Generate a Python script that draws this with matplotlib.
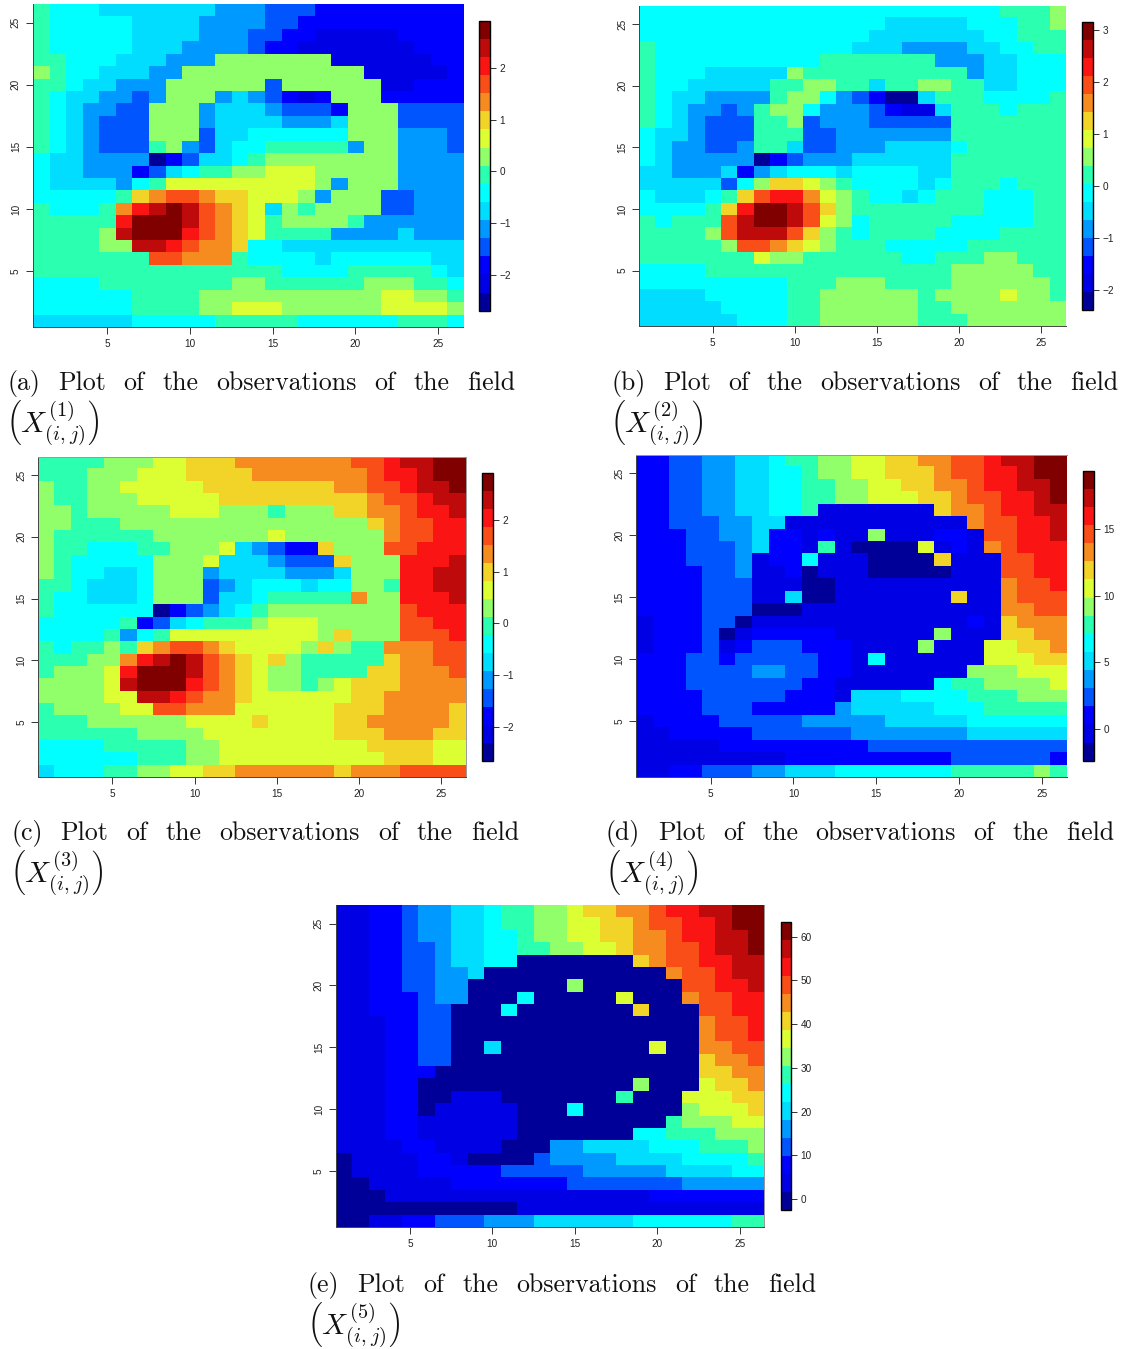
import numpy as np
import matplotlib
matplotlib.use("Agg")
import matplotlib.pyplot as plt
from matplotlib.colors import ListedColormap

W, H = 1123, 1349

# 16 colours of the colour bar, bottom to top
colours = ["#000099", "#0000E5", "#0000FF", "#0055FF", "#0099FF", "#00DDFF", "#00FFFF", "#2BFFB0",
           "#90FF6A", "#DBFF33", "#F2D327", "#F68C20", "#F94E18", "#FA1414", "#BE0A0A", "#800000"]

# band index of each cell (hex digit), rows from y=26 down to y=1, columns x=1..26
field1 = [
    "7 666 5555555 444 333 222222222",
    "7 66666 5555 4444 33 2222222222",
    "7 66666 5555 444 33 22 11111 2222",
    "7 66666 555 4444 3 22 1111111 222",
    "77 666 555 444 8888888 111111 22",
    "8 7 66 555 44 88888888888 11111 2",
    "77 6 55 444 888888 3 888888 11 222",
    "7 6 55 44 3 4 888 4 5 4 3 2 1 2 888 22222",
    "7 6 5 44 33 888 4 555 4 333 2 888 3333",
    "7 6 5 4 333 888 4 5555 444 5 888 3333",
    "7 6 5 4 333 888 3 55 666666 888 444 3",
    "7 6 5 4 333 7 8 4 3 5 66 77777 4 88 444 3",
    "6 55 4444 0 2 3 55 6 7 88888888 4444",
    "6 55 444 2 3 5 6 77 88 999 88888 4444",
    "6 5555 4 6 7 999999999 8 4 888 4444",
    "66666 7 A B CC B AA 999 8 4 888 33 444",
    "7 666 7 B D E F E C B A 9 5 8 7 8888 33 444",
    "77777 D FFF E C B A 9 7 8888 7 444444",
    "7777 8 E FFF D C B A 9 7777 4444 5 444",
    "7777 88 EE D C BB A 66 55555555555",
    "7777777 CC BBB 7 6666 5 666666 55",
    "777777777777777 6666 77777 6 5",
    "6666 77777777 88 777777 888 77 6",
    "666666 7777 88888888888 99 88 7",
    "666666 7777 88 999 888888 9999 8",
    "555555 66666 77777 666666 777 6",
]
field2 = [
    "6666666666666666666666 777 8",
    "666666666666666 55555 666 77 8",
    "66666666666666 5555555 66 777",
    "7 666666666666 555 4444 55 66 77",
    "7 6666666666 7777777 444 55 666",
    "7 666 55555 8 7777777777 4 55 666",
    "7 66 55555 77 88 77 5 77 88 77 55 666",
    "7 6 55 4444 7 88 6 4 3 2 00 5 777 6666 7",
    "7 6 5 44 3 4 7 88 6 444 3 2 11 5 777 6 777",
    "7 6 5 4 333 77 8 3 444 33333 7777777",
    "6 55 4 333 777 33 4444444 7777777",
    "6 5 44 33 4 77 5 33 444 5555 6 777777",
    "6 5 44444 0 2 3 444 555555 7777777",
    "55 444 5 2 4 5 666 5 6666 55 7777777",
    "55555 3 6 8 AA 9 8 7 6666 5 6 777 6 777",
    "6 555 6 7 A C DD B 9 8 7 66 5 6 777 666 77",
    "6666 7 A D FF E C A 8 77777777 666 77",
    "7 6 777 C E FF E C 9 8 6 77777 66666 77",
    "7777 8 C EEE C A 8 7 6 7777 6666 7777",
    "77777 8 CC B A 9 8 777 66666 777777",
    "7777777 9 88 777777 66 777 88 777",
    "6666 777777777777777 88888 77",
    "666666666 777 888 7777 888888 7",
    "5555 66666 77 888888 7 8888 9 88 7",
    "55555 6666 77 888888 77 8888888",
    "555555 666 77 888888 777 888888",
]
field3 = [
    "7777 888 99 AAA BBBBBBB CC D EE FF",
    "777 888 999 AAAA BBBBBBB C DD E FF",
    "8 77 88 99999 AAAAAAAA BB CC D EE F",
    "8 77 888 99999 AAAAAAAAA B CC D EE",
    "88 7 88888 999 888 7 888 AA BB C DD E",
    "88 777 888888888888888 A B CC DD",
    "8 777777 8888888 9 888888 B CC DD",
    "8 77 666 77 888 9 5 4 3 2 2 A 888 CC DDD",
    "8 7 66666 888 9 555 4 333 A 888 DDD E",
    "8 7 66 55 6 888 4 5555 444 5 888 DD EE",
    "77 6 555 6 888 3 4 5 666 5 66 88 7 DD EE",
    "7 66 555 6 888 3 55 6 77777 B 88 DDD E",
    "7 666666 0 2 3 4 5 6 7 88888888 C DDD",
    "66666 7 2 3 5 6 777 8 999 88888 CC DD",
    "6666 7 4 6 7 999999999 8 A 888 CCC D",
    "7 6 77 8 7 A B CC B A 9999 8 A 8 77 BBB CC",
    "777 88 B D E F E C B A 9 A 8 77777 A BB CC",
    "7 888 9 D FFF E C B A 9 88 7777 AA BBB C",
    "8888 9 E FFF D C B A 9 88 7 8 9 AAA BBBB",
    "8888 99 EE D C BB A 999999 AA BBBBB",
    "7 8888 99 CC BBB 999999 AAA BBBB A",
    "777 888888 9999 A 9999 AA BBBBB A",
    "777777 8888 99999999 AAA BBB AA",
    "6666 77777 88 999999999 AAAA 99",
    "666666 777 88 9999999999 AAA 99",
    "5 666 77 88 99 AA BBBBBB A BBB CCCC",
]
field4 = [
    "22 33 44 55 6 77 88 99 AA BB CC D EE FF",
    "22 33 44 55 66 7 88 99 AAA B CC DD E FF",
    "22 33 44 55 66 77 88 99 AA BB C DD EE F",
    "22 33 44 55 66 77 88 999 AA B CC DD E F",
    "22 33 44 55 66 7 1111111 A BB C DD EE",
    "22 333 44 55 11111111111 B CC DD E",
    "222 33 44 5 22 1 2 11 8 111 22 1 CC DD E",
    "222 333 4 5 22 1 7 1 0000 9 1 2 1 B C DDD",
    "222 333 4 1 22 6 111 0000 A 111 CC DD",
    "2222 33 4 11 2 0 111 00000 111 CC DD",
    "2222 333 111 00 1111111111 B CC D",
    "2222 333 11 5 00 1111111 A 11 B CCC",
    "2222 333 000 111111111111 BB CC",
    "1 222 33 0 1111111111111 2 1 A BBB",
    "1 222 3 0 1 22222 111111 8 111 AA BB",
    "1 222 3 1 2 333 222 1111 8 111 99 AA B",
    "222 33 2 33333 22 1 6 111111 999 AA",
    "222 3333 44 33 22 1111111 888 999",
    "222 3333333 22 111111 6 77 8888 9",
    "2222 33333 222 1 555 6666 777 888",
    "2222 333 22222 4 55555 666 77777",
    "1 2222 33333 44444 55555 666666",
    "11 22222 333333 4444444 555555",
    "11111 222222222 333333333333",
    "111111111 2222222222 333333 2",
    "11 22 333 44 555 6666666 77777 8 7",
]
field5 = [
    "11 22 3 44 55 6 77 88 9 AA BB C DD EE FF",
    "11 22 3 44 55 6 77 88 99 AA B CC DD E FF",
    "11 22 3 44 55 66 7 88 99 AA BB C DD EE F",
    "11 22 33 4 55 66 77 88 99 A BB CC D EE F",
    "11 22 33 4 55 66 0000000 A B CC DD EE",
    "11 22 33 44 5 00000000000 B CC D EE",
    "11 22 33 44 000000 8 000000 CC DD E",
    "11 222 3 44 000 6 00000 9 000 B CC DD",
    "11 222 33 000 6 0000000 A 000 CC DD",
    "111 22 33 000000000000000 B CC D",
    "111 22 33 000000000000000 B CC D",
    "111 22 33 00 5 000000000 9 00 BB CC",
    "111 22 33 000000000000000 A BB C",
    "111 22 2 0000000000000000 AA BB",
    "111 22 0000000000000 8 000 9 AA B",
    "111 22 00 111 0000000 7 000 999 AA",
    "111 22 0 11111 000 6 000000 8 999 A",
    "111 22 111111 000000000 7 888 99",
    "111 22 111111 0000000 66 777 888",
    "1111 22 1111 000 44 5555 666 777 8",
    "0 1111 22 1 0000 3 4444 5555 6666 7",
    "0 1111 22222 33333 44444 5555 66",
    "00 11111 2222222 3333333 44444",
    "000 1111111111111111 2222222",
    "00000000000 111111111111111",
    "00 11 22 333 444 555555 666666 77",
]

# colour bar range of each field
ranges = [(-2.688, 2.907), (-2.391, 3.154), (-2.665, 2.916), (-2.375, 19.375), (-2.5, 63.4)]
bar_ticks = [[-2, -1, 0, 1, 2], [-2, -1, 0, 1, 2, 3], [-2, -1, 0, 1, 2], [0, 5, 10, 15], [0, 10, 20, 30, 40, 50, 60]]
letters = ["a", "b", "c", "d", "e"]
fields = [field1, field2, field3, field4, field5]

# pixel boxes: image, colour bar, caption left and right edge, caption baseline
img_box = [(32.7, 4, 463, 327), (639, 5.7, 1065.7, 326), (38.3, 456.7, 466, 777.3),
           (636, 454.7, 1067, 777.3), (335.7, 905, 764.3, 1226.7)]
bar_box = [(479.3, 20.7, 490, 310.7), (1082.3, 21.7, 1092.7, 310), (482.3, 472.7, 492.7, 761),
           (1083.3, 470.7, 1093.7, 760.7), (780.7, 921.7, 791, 1210)]
cap_pos = [(7, 515, 390), (611, 1118, 390), (11, 519, 840), (606, 1114, 840), (308, 816, 1292)]
# faint grey edges that show on some of the images
grey_sides = [[], [], ["top", "right"], ["top"], ["right"]]

plt.rcParams["mathtext.fontset"] = "cm"
plt.rcParams["font.family"] = "Liberation Sans"
plt.rcParams["axes.unicode_minus"] = True
cmap = ListedColormap(colours)
fig = plt.figure(figsize=(W / 100, H / 100), dpi=100)


def add_ax(box):
    x0, y0, x1, y1 = box
    return fig.add_axes([x0 / W, 1 - y1 / H, (x1 - x0) / W, (y1 - y0) / H])


def caption(letter, n, x0, x1, y):
    words = ["(%s)" % letter, "Plot", "of", "the", "observations", "of", "the", "field"]
    items = [fig.text(0, 1 - y / H, w, family="cmr10", fontsize=18.6, color="#111111") for w in words]
    r = fig.canvas.get_renderer()
    widths = [t.get_window_extent(r).width for t in items]
    gap = (x1 - x0 - sum(widths)) / (len(words) - 1)
    x = x0
    for t, w in zip(items, widths):
        t.set_x(x / W)
        x += w + gap
    fig.text((x0 - 1) / W, 1 - (y + 33) / H, r"$\left(X^{(%d)}_{(i,j)}\right)$" % n,
             fontsize=21, va="center", color="#111111")


for i in range(5):
    rows = [r.replace(" ", "") for r in fields[i]]
    levels = np.array([[int(c, 16) for c in r] for r in rows])
    vmin, vmax = ranges[i]
    values = vmin + (levels + 0.5) * (vmax - vmin) / 16

    ax = add_ax(img_box[i])
    im = ax.imshow(values[::-1], origin="lower", extent=(0.5, 26.5, 0.5, 26.5), aspect="auto",
                   cmap=cmap, vmin=vmin, vmax=vmax, interpolation="nearest")
    ax.set_xticks([5, 10, 15, 20, 25])
    ax.set_yticks([5, 10, 15, 20, 25])
    ax.tick_params(length=5, width=0.7, labelsize=7.2, color="#333333", labelcolor="#222222", pad=3.5)
    for lab in ax.get_yticklabels():
        lab.set_rotation(90)
        lab.set_va("center")
    for side in ["top", "right"]:
        ax.spines[side].set_visible(side in grey_sides[i])
        ax.spines[side].set_color("#999999")
        ax.spines[side].set_linewidth(0.7)
    ax.spines["left"].set_linewidth(0.7)
    ax.spines["bottom"].set_linewidth(0.7)
    ax.spines["left"].set_color("#444444")
    ax.spines["bottom"].set_color("#444444")

    cax = add_ax(bar_box[i])
    cb = fig.colorbar(im, cax=cax)
    cb.set_ticks(bar_ticks[i])
    cb.ax.tick_params(length=4, width=0.7, labelsize=7.2, color="#333333", labelcolor="#222222", pad=3)
    cb.outline.set_linewidth(1.0)
    cb.outline.set_edgecolor("black")

    x0, x1, y = cap_pos[i]
    caption(letters[i], i + 1, x0, x1, y)

fig.savefig("out.png", dpi=100)
